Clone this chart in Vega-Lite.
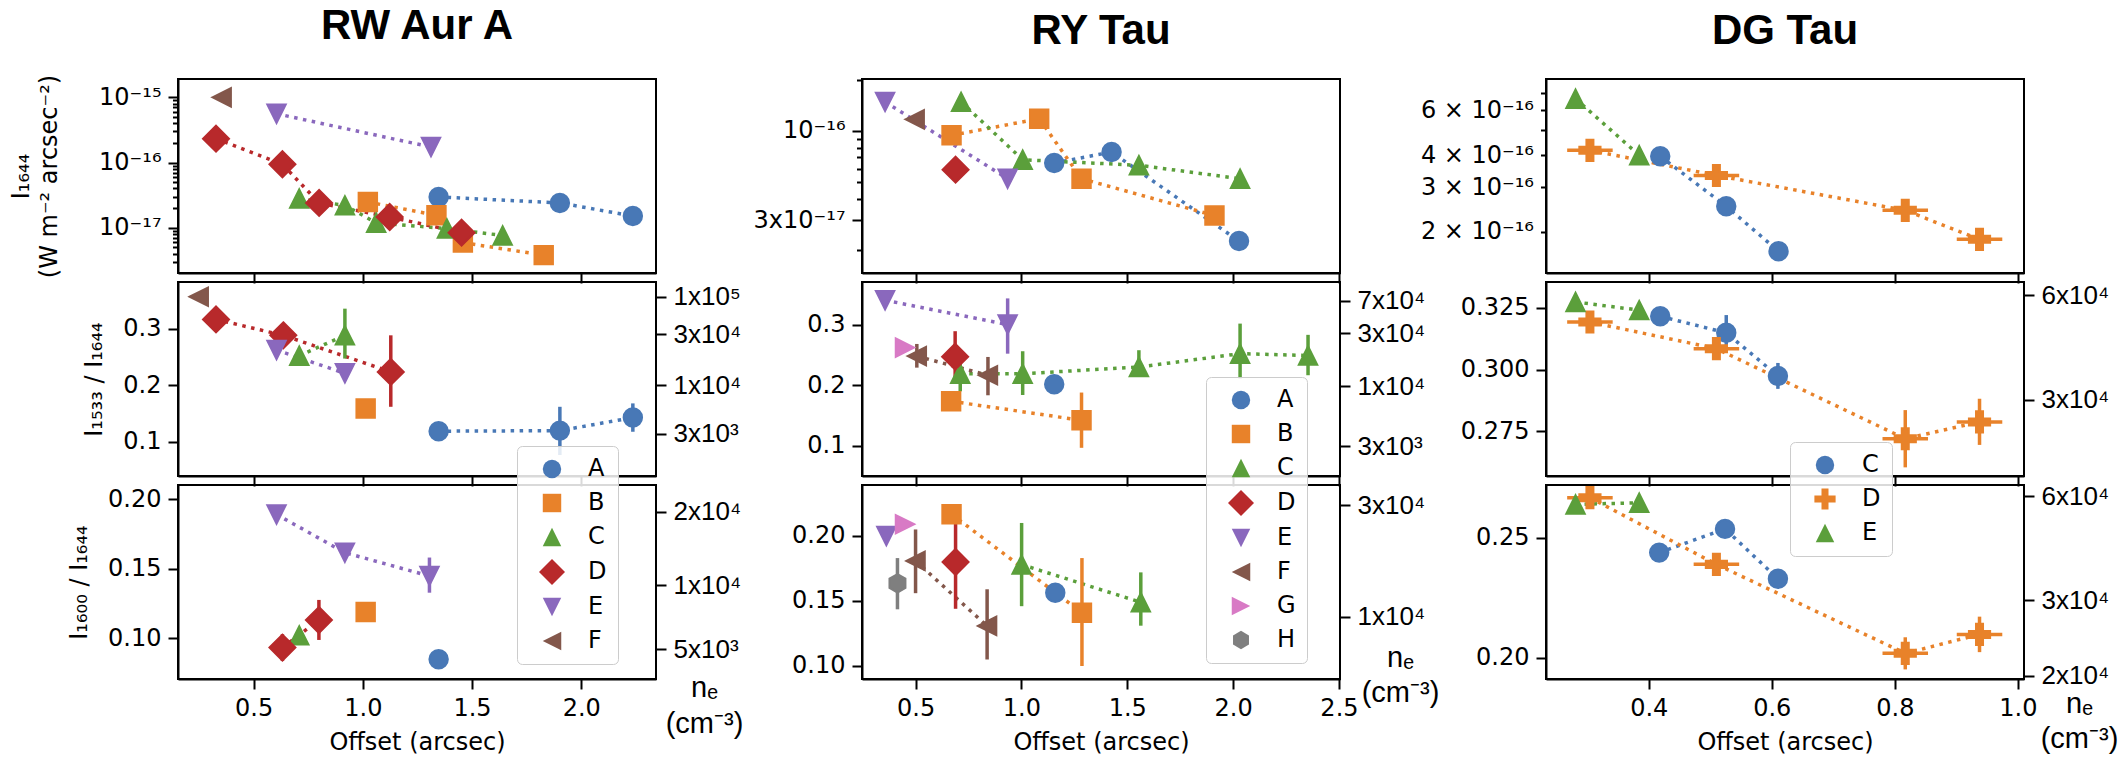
{
  "$schema": "https://vega.github.io/schema/vega-lite/v6.json",
  "background": "white",
  "padding": {"left": 8, "top": 4, "right": 5, "bottom": 5},
  "config": {
    "font": "DejaVu Sans",
    "view": {"stroke": "black", "strokeWidth": 2},
    "axis": {
      "domainColor": "black", "domainWidth": 2, "tickColor": "black", "tickWidth": 2, "tickSize": 10,
      "labelFont": "DejaVu Sans", "labelFontSize": 24, "labelColor": "black", "labelPadding": 7,
      "labelFlush": false, "labelOverlap": false, "labelBound": false, "grid": false,
      "titleFont": "DejaVu Sans", "titleFontSize": 24, "titleFontWeight": "normal", "titleColor": "black",
      "titlePadding": 16, "titleLineHeight": 28
    },
    "legend": {
      "fillColor": "rgba(255,255,255,0.85)", "strokeColor": "#cccccc", "cornerRadius": 5,
      "labelFont": "DejaVu Sans", "labelFontSize": 24, "labelColor": "black",
      "symbolSize": 340, "symbolStrokeWidth": 0, "rowPadding": 10
    },
    "title": {"font": "Liberation Sans", "fontSize": 42, "fontWeight": "bold", "color": "black", "anchor": "middle", "offset": 26}
  },
  "datasets": {
    "rw1": [
      {"s": "A", "x": 1.347, "y": 2.96e-17}, {"s": "A", "x": 1.902, "y": 2.4e-17}, {"s": "A", "x": 2.236, "y": 1.51e-17},
      {"s": "B", "x": 1.023, "y": 2.48e-17}, {"s": "B", "x": 1.337, "y": 1.55e-17}, {"s": "B", "x": 1.458, "y": 5.9e-18}, {"s": "B", "x": 1.828, "y": 3.8e-18},
      {"s": "C", "x": 0.709, "y": 2.8e-17}, {"s": "C", "x": 0.918, "y": 2.2e-17}, {"s": "C", "x": 1.061, "y": 1.19e-17}, {"s": "C", "x": 1.385, "y": 9.7e-18}, {"s": "C", "x": 1.64, "y": 7.6e-18},
      {"s": "D", "x": 0.328, "y": 2.32e-16}, {"s": "D", "x": 0.632, "y": 9.4e-17}, {"s": "D", "x": 0.8, "y": 2.4e-17}, {"s": "D", "x": 1.123, "y": 1.46e-17}, {"s": "D", "x": 1.452, "y": 8.4e-18},
      {"s": "E", "x": 0.605, "y": 5.6e-16}, {"s": "E", "x": 1.312, "y": 1.73e-16},
      {"s": "F", "x": 0.354, "y": 1.0e-15}
    ],
    "rw2": [
      {"s": "A", "x": 1.347, "y": 0.119}, {"s": "A", "x": 1.902, "y": 0.12, "lo": 0.077, "hi": 0.162}, {"s": "A", "x": 2.236, "y": 0.143, "lo": 0.118, "hi": 0.168},
      {"s": "B", "x": 1.013, "y": 0.159},
      {"s": "C", "x": 0.709, "y": 0.252}, {"s": "C", "x": 0.918, "y": 0.288, "lo": 0.247, "hi": 0.335},
      {"s": "D", "x": 0.328, "y": 0.316}, {"s": "D", "x": 0.636, "y": 0.288}, {"s": "D", "x": 1.128, "y": 0.2235, "lo": 0.162, "hi": 0.288},
      {"s": "E", "x": 0.605, "y": 0.262}, {"s": "E", "x": 0.918, "y": 0.221},
      {"s": "F", "x": 0.249, "y": 0.356}
    ],
    "rw3": [
      {"s": "A", "x": 1.347, "y": 0.0848},
      {"s": "B", "x": 1.013, "y": 0.1188},
      {"s": "C", "x": 0.709, "y": 0.102},
      {"s": "D", "x": 0.632, "y": 0.0932, "lo": 0.0836, "hi": 0.1028}, {"s": "D", "x": 0.799, "y": 0.113, "lo": 0.0987, "hi": 0.1275},
      {"s": "E", "x": 0.605, "y": 0.189}, {"s": "E", "x": 0.918, "y": 0.1615}, {"s": "E", "x": 1.305, "y": 0.1447, "lo": 0.1327, "hi": 0.158}
    ],
    "ry1": [
      {"s": "A", "x": 1.155, "y": 6.5e-17}, {"s": "A", "x": 1.426, "y": 7.53e-17}, {"s": "A", "x": 2.028, "y": 2.27e-17},
      {"s": "B", "x": 0.67, "y": 9.44e-17}, {"s": "B", "x": 1.084, "y": 1.18e-16}, {"s": "B", "x": 1.284, "y": 5.26e-17}, {"s": "B", "x": 1.912, "y": 3.2e-17},
      {"s": "C", "x": 0.715, "y": 1.48e-16}, {"s": "C", "x": 1.006, "y": 6.79e-17}, {"s": "C", "x": 1.555, "y": 6.3e-17}, {"s": "C", "x": 2.033, "y": 5.26e-17},
      {"s": "D", "x": 0.689, "y": 5.94e-17},
      {"s": "E", "x": 0.356, "y": 1.48e-16}, {"s": "E", "x": 0.935, "y": 5.26e-17},
      {"s": "F", "x": 0.496, "y": 1.17e-16}
    ],
    "ry2": [
      {"s": "A", "x": 1.155, "y": 0.2017},
      {"s": "B", "x": 0.668, "y": 0.1736}, {"s": "B", "x": 1.284, "y": 0.1423, "lo": 0.097, "hi": 0.188},
      {"s": "C", "x": 0.711, "y": 0.219, "lo": 0.19, "hi": 0.25}, {"s": "C", "x": 1.006, "y": 0.219, "lo": 0.184, "hi": 0.256}, {"s": "C", "x": 1.555, "y": 0.23, "lo": 0.2137, "hi": 0.2577}, {"s": "C", "x": 2.033, "y": 0.252, "lo": 0.211, "hi": 0.3015}, {"s": "C", "x": 2.354, "y": 0.249, "lo": 0.2165, "hi": 0.283},
      {"s": "D", "x": 0.687, "y": 0.247, "lo": 0.205, "hi": 0.289},
      {"s": "E", "x": 0.356, "y": 0.34}, {"s": "E", "x": 0.935, "y": 0.2999, "lo": 0.252, "hi": 0.343},
      {"s": "F", "x": 0.506, "y": 0.248, "lo": 0.229, "hi": 0.268}, {"s": "F", "x": 0.842, "y": 0.2165, "lo": 0.1835, "hi": 0.2466},
      {"s": "G", "x": 0.45, "y": 0.262}
    ],
    "ry3": [
      {"s": "A", "x": 1.16, "y": 0.1564},
      {"s": "B", "x": 0.67, "y": 0.2167}, {"s": "B", "x": 1.286, "y": 0.141, "lo": 0.1, "hi": 0.183},
      {"s": "C", "x": 1.001, "y": 0.178, "lo": 0.146, "hi": 0.21}, {"s": "C", "x": 1.564, "y": 0.149, "lo": 0.131, "hi": 0.172},
      {"s": "D", "x": 0.689, "y": 0.18, "lo": 0.144, "hi": 0.216},
      {"s": "E", "x": 0.362, "y": 0.2},
      {"s": "F", "x": 0.5, "y": 0.1808, "lo": 0.156, "hi": 0.205}, {"s": "F", "x": 0.838, "y": 0.1308, "lo": 0.105, "hi": 0.159},
      {"s": "G", "x": 0.45, "y": 0.209},
      {"s": "H", "x": 0.4145, "y": 0.1636, "lo": 0.1436, "hi": 0.183}
    ],
    "dg1": [
      {"s": "C", "x": 0.4187, "y": 3.96e-16}, {"s": "C", "x": 0.526, "y": 2.52e-16}, {"s": "C", "x": 0.611, "y": 1.68e-16},
      {"s": "D", "x": 0.3044, "y": 4.18e-16, "xlo": 0.2674, "xhi": 0.3414}, {"s": "D", "x": 0.51, "y": 3.33e-16, "xlo": 0.473, "xhi": 0.547}, {"s": "D", "x": 0.817, "y": 2.43e-16, "xlo": 0.78, "xhi": 0.854}, {"s": "D", "x": 0.9377, "y": 1.87e-16, "xlo": 0.9007, "xhi": 0.9747},
      {"s": "E", "x": 0.281, "y": 6.66e-16}, {"s": "E", "x": 0.3845, "y": 4.0e-16}
    ],
    "dg2": [
      {"s": "C", "x": 0.4187, "y": 0.3216}, {"s": "C", "x": 0.526, "y": 0.3149, "lo": 0.3077, "hi": 0.3221}, {"s": "C", "x": 0.61, "y": 0.2974, "lo": 0.2922, "hi": 0.3027},
      {"s": "D", "x": 0.3044, "y": 0.3193, "xlo": 0.2674, "xhi": 0.3414}, {"s": "D", "x": 0.51, "y": 0.3085, "xlo": 0.473, "xhi": 0.547}, {"s": "D", "x": 0.817, "y": 0.272, "lo": 0.2604, "hi": 0.2836, "xlo": 0.78, "xhi": 0.854}, {"s": "D", "x": 0.9377, "y": 0.2788, "lo": 0.2695, "hi": 0.2882, "xlo": 0.9007, "xhi": 0.9747},
      {"s": "E", "x": 0.281, "y": 0.3274}, {"s": "E", "x": 0.3845, "y": 0.3241}
    ],
    "dg3": [
      {"s": "C", "x": 0.417, "y": 0.2438}, {"s": "C", "x": 0.524, "y": 0.2537}, {"s": "C", "x": 0.61, "y": 0.2329},
      {"s": "D", "x": 0.3044, "y": 0.2667, "xlo": 0.2674, "xhi": 0.3414}, {"s": "D", "x": 0.51, "y": 0.2389, "xlo": 0.473, "xhi": 0.547}, {"s": "D", "x": 0.817, "y": 0.2018, "lo": 0.1951, "hi": 0.2085, "xlo": 0.78, "xhi": 0.854}, {"s": "D", "x": 0.9377, "y": 0.2097, "lo": 0.2023, "hi": 0.2171, "xlo": 0.9007, "xhi": 0.9747},
      {"s": "E", "x": 0.281, "y": 0.2639}, {"s": "E", "x": 0.3845, "y": 0.2646}
    ]
  },
  "columns": 3,
  "spacing": {"row": 9, "column": 206},
  "bounds": "flush",
  "resolve": {"scale": {"fill": "independent", "stroke": "independent", "shape": "independent"}},
  "concat": [
    {
      "title": {"text": "RW Aur A"},
      "width": 478, "height": 194,
      "data": {"name": "rw1"},
      "resolve": {"scale": {"y": "independent"}},
      "layer": [
        {
          "encoding": {
            "x": {"field": "x", "type": "quantitative", "scale": {"domain": [0.154, 2.342], "nice": false, "zero": false}, "axis": {"values": [0.5, 1, 1.5, 2], "labels": false, "title": null}},
            "y": {"field": "y", "type": "quantitative", "scale": {"type": "log", "domain": [2.02e-18, 1.91e-15], "nice": false}, "axis": {"values": [1e-17, 1e-16, 1e-15], "labelExpr": "datum.value < 5e-17 ? '10⁻¹⁷' : datum.value < 5e-16 ? '10⁻¹⁶' : '10⁻¹⁵'", "title": ["I₁₆₄₄", "(W m⁻² arcsec⁻²)"], "titlePadding": 37}},
            "stroke": {"field": "s", "type": "nominal", "scale": {"domain": ["A", "B", "C", "D", "E", "F"], "range": ["#4878b6", "#e8822a", "#5b9f3b", "#b8292b", "#8a68bd", "#83574b"]}, "legend": null}
          },
          "layer": [
            {"mark": {"type": "line", "strokeWidth": 3.5, "strokeDash": [3.5, 5.5]}},
            {"mark": {"type": "point", "filled": true, "opacity": 1, "size": 340},
             "encoding": {
               "fill": {"field": "s", "type": "nominal", "scale": {"domain": ["A", "B", "C", "D", "E", "F"], "range": ["#4878b6", "#e8822a", "#5b9f3b", "#b8292b", "#8a68bd", "#83574b"]}, "legend": null},
               "shape": {"field": "s", "type": "nominal", "scale": {"domain": ["A", "B", "C", "D", "E", "F"], "range": ["circle", "square", "M0,-1L1,1L-1,1Z", "M0,-1.41L1.41,0L0,1.41L-1.41,0Z", "M0,1L1,-1L-1,-1Z", "M-1,0L1,-1L1,1Z"]}, "legend": null}}}
          ]
        },
        {
          "mark": {"type": "point", "opacity": 0},
          "encoding": {"y": {"field": "y", "type": "quantitative", "scale": {"type": "log", "domain": [2.02e-18, 1.91e-15], "nice": false}, "axis": {"orient": "left", "values": [3e-18, 4e-18, 5e-18, 6e-18, 7e-18, 8e-18, 9e-18, 2e-17, 3e-17, 4e-17, 5e-17, 6e-17, 7e-17, 8e-17, 9e-17, 2e-16, 3e-16, 4e-16, 5e-16, 6e-16, 7e-16, 8e-16, 9e-16], "labels": false, "domain": false, "tickSize": 5.5, "title": null}}}
        }
      ]
    },
    {
      "title": {"text": "RY Tau"},
      "width": 478, "height": 194,
      "data": {"name": "ry1"},
      "resolve": {"scale": {"y": "independent"}},
      "layer": [
        {
          "encoding": {
            "x": {"field": "x", "type": "quantitative", "scale": {"domain": [0.247, 2.505], "nice": false, "zero": false}, "axis": {"values": [0.5, 1, 1.5, 2, 2.5], "labels": false, "title": null}},
            "y": {"field": "y", "type": "quantitative", "scale": {"type": "log", "domain": [1.476e-17, 2.015e-16], "nice": false}, "axis": {"values": [3e-17, 1e-16], "labelExpr": "datum.value < 5e-17 ? '3x10⁻¹⁷' : '10⁻¹⁶'", "title": null}},
            "stroke": {"field": "s", "type": "nominal", "scale": {"domain": ["A", "B", "C", "D", "E", "F", "G", "H"], "range": ["#4878b6", "#e8822a", "#5b9f3b", "#b8292b", "#8a68bd", "#83574b", "#d87ac5", "#7f7f7f"]}, "legend": null}
          },
          "layer": [
            {"mark": {"type": "line", "strokeWidth": 3.5, "strokeDash": [3.5, 5.5]}},
            {"mark": {"type": "point", "filled": true, "opacity": 1, "size": 340},
             "encoding": {
               "fill": {"field": "s", "type": "nominal", "scale": {"domain": ["A", "B", "C", "D", "E", "F", "G", "H"], "range": ["#4878b6", "#e8822a", "#5b9f3b", "#b8292b", "#8a68bd", "#83574b", "#d87ac5", "#7f7f7f"]}, "legend": null},
               "shape": {"field": "s", "type": "nominal", "scale": {"domain": ["A", "B", "C", "D", "E", "F", "G", "H"], "range": ["circle", "square", "M0,-1L1,1L-1,1Z", "M0,-1.41L1.41,0L0,1.41L-1.41,0Z", "M0,1L1,-1L-1,-1Z", "M-1,0L1,-1L1,1Z", "M1,0L-1,-1L-1,1Z", "M0,-1L0.866,-0.5L0.866,0.5L0,1L-0.866,0.5L-0.866,-0.5Z"]}, "legend": null}}}
          ]
        },
        {
          "mark": {"type": "point", "opacity": 0},
          "encoding": {"y": {"field": "y", "type": "quantitative", "scale": {"type": "log", "domain": [1.476e-17, 2.015e-16], "nice": false}, "axis": {"orient": "left", "values": [2e-17, 4e-17, 5e-17, 6e-17, 7e-17, 8e-17, 9e-17, 2e-16], "labels": false, "domain": false, "tickSize": 5.5, "title": null}}}
        }
      ]
    },
    {
      "title": {"text": "DG Tau"},
      "width": 478, "height": 194,
      "data": {"name": "dg1"},
      "resolve": {"scale": {"y": "independent"}},
      "layer": [
        {
          "encoding": {
            "x": {"field": "x", "type": "quantitative", "scale": {"domain": [0.233, 1.01], "nice": false, "zero": false}, "axis": {"values": [0.4, 0.6, 0.8, 1.0], "labels": false, "title": null}},
            "y": {"field": "y", "type": "quantitative", "scale": {"type": "log", "domain": [1.38e-16, 7.96e-16], "nice": false}, "axis": {"values": [2e-16, 3e-16, 4e-16, 6e-16], "tickSize": 5.5, "labelExpr": "datum.value < 2.5e-16 ? '2 × 10⁻¹⁶' : datum.value < 3.5e-16 ? '3 × 10⁻¹⁶' : datum.value < 5e-16 ? '4 × 10⁻¹⁶' : '6 × 10⁻¹⁶'", "title": null}},
            "stroke": {"field": "s", "type": "nominal", "scale": {"domain": ["C", "D", "E"], "range": ["#4878b6", "#e8822a", "#5b9f3b"]}, "legend": null}
          },
          "layer": [
            {"mark": {"type": "line", "strokeWidth": 3.5, "strokeDash": [3.5, 5.5]}},
            {"transform": [{"filter": "isValid(datum.xlo)"}], "mark": {"type": "rule", "strokeWidth": 3.5},
             "encoding": {"x": {"field": "xlo", "type": "quantitative", "scale": {"domain": [0.233, 1.01], "nice": false, "zero": false}, "axis": {"values": [0.4, 0.6, 0.8, 1.0], "labels": false, "title": null}}, "x2": {"field": "xhi"}}},
            {"mark": {"type": "point", "filled": true, "opacity": 1, "size": 340},
             "encoding": {
               "fill": {"field": "s", "type": "nominal", "scale": {"domain": ["C", "D", "E"], "range": ["#4878b6", "#e8822a", "#5b9f3b"]}, "legend": null},
               "shape": {"field": "s", "type": "nominal", "scale": {"domain": ["C", "D", "E"], "range": ["circle", "M-0.38,-1.15L0.38,-1.15L0.38,-0.38L1.15,-0.38L1.15,0.38L0.38,0.38L0.38,1.15L-0.38,1.15L-0.38,0.38L-1.15,0.38L-1.15,-0.38L-0.38,-0.38Z", "M0,-1L1,1L-1,1Z"]}, "legend": null}}}
          ]
        },
        {
          "mark": {"type": "point", "opacity": 0},
          "encoding": {"y": {"field": "y", "type": "quantitative", "scale": {"type": "log", "domain": [1.38e-16, 7.96e-16], "nice": false}, "axis": {"orient": "left", "values": [5e-16, 7e-16], "labels": false, "domain": false, "tickSize": 5.5, "title": null}}}
        }
      ]
    },
    {
      "width": 478, "height": 194,
      "data": {"name": "rw2"},
      "resolve": {"scale": {"y": "independent"}},
      "layer": [
        {
          "encoding": {
            "x": {"field": "x", "type": "quantitative", "scale": {"domain": [0.154, 2.342], "nice": false, "zero": false}, "axis": {"values": [0.5, 1, 1.5, 2], "labels": false, "title": null}},
            "y": {"field": "y", "type": "quantitative", "scale": {"domain": [0.04, 0.382], "nice": false, "zero": false}, "axis": {"values": [0.1, 0.2, 0.3], "format": ".1f", "title": "I₁₅₃₃ / I₁₆₄₄"}},
            "stroke": {"field": "s", "type": "nominal", "scale": {"domain": ["A", "B", "C", "D", "E", "F"], "range": ["#4878b6", "#e8822a", "#5b9f3b", "#b8292b", "#8a68bd", "#83574b"]}, "legend": null}
          },
          "layer": [
            {"mark": {"type": "line", "strokeWidth": 3.5, "strokeDash": [3.5, 5.5]}},
            {"transform": [{"filter": "isValid(datum.lo)"}], "mark": {"type": "rule", "strokeWidth": 3.5},
             "encoding": {"y": {"field": "lo", "type": "quantitative", "scale": {"domain": [0.04, 0.382], "nice": false, "zero": false}, "axis": {"values": [0.1, 0.2, 0.3], "format": ".1f", "title": "I₁₅₃₃ / I₁₆₄₄"}}, "y2": {"field": "hi"}}},
            {"mark": {"type": "point", "filled": true, "opacity": 1, "size": 340},
             "encoding": {
               "fill": {"field": "s", "type": "nominal", "scale": {"domain": ["A", "B", "C", "D", "E", "F"], "range": ["#4878b6", "#e8822a", "#5b9f3b", "#b8292b", "#8a68bd", "#83574b"]}, "legend": null},
               "shape": {"field": "s", "type": "nominal", "scale": {"domain": ["A", "B", "C", "D", "E", "F"], "range": ["circle", "square", "M0,-1L1,1L-1,1Z", "M0,-1.41L1.41,0L0,1.41L-1.41,0Z", "M0,1L1,-1L-1,-1Z", "M-1,0L1,-1L1,1Z"]}, "legend": null}}}
          ]
        },
        {
          "mark": {"type": "point", "opacity": 0},
          "encoding": {"y": {"field": "y", "type": "quantitative", "scale": {"domain": [0.04, 0.382], "nice": false, "zero": false}, "axis": {"orient": "right", "values": [0.356, 0.29, 0.2, 0.1147], "labelExpr": "datum.value > 0.32 ? '1x10⁵' : datum.value > 0.25 ? '3x10⁴' : datum.value > 0.15 ? '1x10⁴' : '3x10³'", "labelFont": "Liberation Sans", "labelFontSize": 26, "domain": false, "title": null}}}
        }
      ]
    },
    {
      "width": 478, "height": 194,
      "data": {"name": "ry2"},
      "resolve": {"scale": {"y": "independent"}},
      "layer": [
        {
          "encoding": {
            "x": {"field": "x", "type": "quantitative", "scale": {"domain": [0.247, 2.505], "nice": false, "zero": false}, "axis": {"values": [0.5, 1, 1.5, 2, 2.5], "labels": false, "title": null}},
            "y": {"field": "y", "type": "quantitative", "scale": {"domain": [0.0506, 0.37], "nice": false, "zero": false}, "axis": {"values": [0.1, 0.2, 0.3], "format": ".1f", "title": null}},
            "stroke": {"field": "s", "type": "nominal", "scale": {"domain": ["A", "B", "C", "D", "E", "F", "G", "H"], "range": ["#4878b6", "#e8822a", "#5b9f3b", "#b8292b", "#8a68bd", "#83574b", "#d87ac5", "#7f7f7f"]}, "legend": null}
          },
          "layer": [
            {"mark": {"type": "line", "strokeWidth": 3.5, "strokeDash": [3.5, 5.5]}},
            {"transform": [{"filter": "isValid(datum.lo)"}], "mark": {"type": "rule", "strokeWidth": 3.5},
             "encoding": {"y": {"field": "lo", "type": "quantitative", "scale": {"domain": [0.0506, 0.37], "nice": false, "zero": false}, "axis": {"values": [0.1, 0.2, 0.3], "format": ".1f", "title": null}}, "y2": {"field": "hi"}}},
            {"mark": {"type": "point", "filled": true, "opacity": 1, "size": 340},
             "encoding": {
               "fill": {"field": "s", "type": "nominal", "scale": {"domain": ["A", "B", "C", "D", "E", "F", "G", "H"], "range": ["#4878b6", "#e8822a", "#5b9f3b", "#b8292b", "#8a68bd", "#83574b", "#d87ac5", "#7f7f7f"]}, "legend": null},
               "shape": {"field": "s", "type": "nominal", "scale": {"domain": ["A", "B", "C", "D", "E", "F", "G", "H"], "range": ["circle", "square", "M0,-1L1,1L-1,1Z", "M0,-1.41L1.41,0L0,1.41L-1.41,0Z", "M0,1L1,-1L-1,-1Z", "M-1,0L1,-1L1,1Z", "M1,0L-1,-1L-1,1Z", "M0,-1L0.866,-0.5L0.866,0.5L0,1L-0.866,0.5L-0.866,-0.5Z"]}, "legend": null}}}
          ]
        },
        {
          "mark": {"type": "point", "opacity": 0},
          "encoding": {"y": {"field": "y", "type": "quantitative", "scale": {"domain": [0.0506, 0.37], "nice": false, "zero": false}, "axis": {"orient": "right", "values": [0.339, 0.286, 0.198, 0.0995], "labelExpr": "datum.value > 0.32 ? '7x10⁴' : datum.value > 0.25 ? '3x10⁴' : datum.value > 0.15 ? '1x10⁴' : '3x10³'", "labelFont": "Liberation Sans", "labelFontSize": 26, "domain": false, "title": null}}}
        }
      ]
    },
    {
      "width": 478, "height": 194,
      "data": {"name": "dg2"},
      "resolve": {"scale": {"y": "independent"}},
      "layer": [
        {
          "encoding": {
            "x": {"field": "x", "type": "quantitative", "scale": {"domain": [0.233, 1.01], "nice": false, "zero": false}, "axis": {"values": [0.4, 0.6, 0.8, 1.0], "labels": false, "title": null}},
            "y": {"field": "y", "type": "quantitative", "scale": {"domain": [0.2569, 0.3355], "nice": false, "zero": false}, "axis": {"values": [0.275, 0.3, 0.325], "format": ".3f", "title": null}},
            "stroke": {"field": "s", "type": "nominal", "scale": {"domain": ["C", "D", "E"], "range": ["#4878b6", "#e8822a", "#5b9f3b"]}, "legend": null}
          },
          "layer": [
            {"mark": {"type": "line", "strokeWidth": 3.5, "strokeDash": [3.5, 5.5]}},
            {"transform": [{"filter": "isValid(datum.lo)"}], "mark": {"type": "rule", "strokeWidth": 3.5},
             "encoding": {"y": {"field": "lo", "type": "quantitative", "scale": {"domain": [0.2569, 0.3355], "nice": false, "zero": false}, "axis": {"values": [0.275, 0.3, 0.325], "format": ".3f", "title": null}}, "y2": {"field": "hi"}}},
            {"transform": [{"filter": "isValid(datum.xlo)"}], "mark": {"type": "rule", "strokeWidth": 3.5},
             "encoding": {"x": {"field": "xlo", "type": "quantitative", "scale": {"domain": [0.233, 1.01], "nice": false, "zero": false}, "axis": {"values": [0.4, 0.6, 0.8, 1.0], "labels": false, "title": null}}, "x2": {"field": "xhi"}}},
            {"mark": {"type": "point", "filled": true, "opacity": 1, "size": 340},
             "encoding": {
               "fill": {"field": "s", "type": "nominal", "scale": {"domain": ["C", "D", "E"], "range": ["#4878b6", "#e8822a", "#5b9f3b"]}, "legend": null},
               "shape": {"field": "s", "type": "nominal", "scale": {"domain": ["C", "D", "E"], "range": ["circle", "M-0.38,-1.15L0.38,-1.15L0.38,-0.38L1.15,-0.38L1.15,0.38L0.38,0.38L0.38,1.15L-0.38,1.15L-0.38,0.38L-1.15,0.38L-1.15,-0.38L-0.38,-0.38Z", "M0,-1L1,1L-1,1Z"]}, "legend": null}}}
          ]
        },
        {
          "mark": {"type": "point", "opacity": 0},
          "encoding": {"y": {"field": "y", "type": "quantitative", "scale": {"domain": [0.2569, 0.3355], "nice": false, "zero": false}, "axis": {"orient": "right", "values": [0.3301, 0.2878], "labelExpr": "datum.value > 0.31 ? '6x10⁴' : '3x10⁴'", "labelFont": "Liberation Sans", "labelFontSize": 26, "domain": false, "title": null}}}
        }
      ]
    },
    {
      "width": 478, "height": 194,
      "data": {"name": "rw3"},
      "resolve": {"scale": {"y": "independent"}},
      "layer": [
        {
          "encoding": {
            "x": {"field": "x", "type": "quantitative", "scale": {"domain": [0.154, 2.342], "nice": false, "zero": false}, "axis": {"values": [0.5, 1, 1.5, 2], "format": ".1f", "title": "Offset (arcsec)", "titlePadding": 10}},
            "y": {"field": "y", "type": "quantitative", "scale": {"domain": [0.0706, 0.2102], "nice": false, "zero": false}, "axis": {"values": [0.1, 0.15, 0.2], "format": ".2f", "title": "I₁₆₀₀ / I₁₆₄₄"}},
            "stroke": {"field": "s", "type": "nominal", "scale": {"domain": ["A", "B", "C", "D", "E", "F"], "range": ["#4878b6", "#e8822a", "#5b9f3b", "#b8292b", "#8a68bd", "#83574b"]},
                       "legend": {"orient": "none", "legendX": 339, "legendY": -39, "title": null, "padding": 11, "symbolOffset": 12, "labelOffset": 24}}
          },
          "layer": [
            {"mark": {"type": "line", "strokeWidth": 3.5, "strokeDash": [3.5, 5.5]}},
            {"transform": [{"filter": "isValid(datum.lo)"}], "mark": {"type": "rule", "strokeWidth": 3.5},
             "encoding": {"y": {"field": "lo", "type": "quantitative", "scale": {"domain": [0.0706, 0.2102], "nice": false, "zero": false}, "axis": {"values": [0.1, 0.15, 0.2], "format": ".2f", "title": "I₁₆₀₀ / I₁₆₄₄"}}, "y2": {"field": "hi"}}},
            {"mark": {"type": "point", "filled": true, "opacity": 1, "size": 340},
             "encoding": {
               "fill": {"field": "s", "type": "nominal", "scale": {"domain": ["A", "B", "C", "D", "E", "F"], "range": ["#4878b6", "#e8822a", "#5b9f3b", "#b8292b", "#8a68bd", "#83574b"]},
                        "legend": {"orient": "none", "legendX": 339, "legendY": -39, "title": null, "padding": 11, "symbolOffset": 12, "labelOffset": 24}},
               "shape": {"field": "s", "type": "nominal", "scale": {"domain": ["A", "B", "C", "D", "E", "F"], "range": ["circle", "square", "M0,-1L1,1L-1,1Z", "M0,-1.41L1.41,0L0,1.41L-1.41,0Z", "M0,1L1,-1L-1,-1Z", "M-1,0L1,-1L1,1Z"]},
                         "legend": {"orient": "none", "legendX": 339, "legendY": -39, "title": null, "padding": 11, "symbolOffset": 12, "labelOffset": 24}}}}
          ]
        },
        {
          "mark": {"type": "point", "opacity": 0},
          "encoding": {"y": {"field": "y", "type": "quantitative", "scale": {"domain": [0.0706, 0.2102], "nice": false, "zero": false}, "axis": {"orient": "right", "values": [0.191, 0.138, 0.092], "labelExpr": "datum.value > 0.17 ? '2x10⁴' : datum.value > 0.11 ? '1x10⁴' : '5x10³'", "labelFont": "Liberation Sans", "labelFontSize": 26, "domain": false,
            "title": ["nₑ", "(cm⁻³)"], "titleAngle": 0, "titleAlign": "center", "titleBaseline": "top", "titleX": 48, "titleY": 188, "titleFont": "Liberation Sans", "titleFontSize": 29, "titleLineHeight": 36}}}
        }
      ]
    },
    {
      "width": 478, "height": 194,
      "data": {"name": "ry3"},
      "resolve": {"scale": {"y": "independent"}},
      "layer": [
        {
          "encoding": {
            "x": {"field": "x", "type": "quantitative", "scale": {"domain": [0.247, 2.505], "nice": false, "zero": false}, "axis": {"values": [0.5, 1, 1.5, 2, 2.5], "format": ".1f", "title": "Offset (arcsec)", "titlePadding": 10}},
            "y": {"field": "y", "type": "quantitative", "scale": {"domain": [0.09, 0.2392], "nice": false, "zero": false}, "axis": {"values": [0.1, 0.15, 0.2], "format": ".2f", "title": null}},
            "stroke": {"field": "s", "type": "nominal", "scale": {"domain": ["A", "B", "C", "D", "E", "F", "G", "H"], "range": ["#4878b6", "#e8822a", "#5b9f3b", "#b8292b", "#8a68bd", "#83574b", "#d87ac5", "#7f7f7f"]},
                       "legend": {"orient": "none", "legendX": 344, "legendY": -108, "title": null, "padding": 11, "symbolOffset": 12, "labelOffset": 24}}
          },
          "layer": [
            {"mark": {"type": "line", "strokeWidth": 3.5, "strokeDash": [3.5, 5.5]}},
            {"transform": [{"filter": "isValid(datum.lo)"}], "mark": {"type": "rule", "strokeWidth": 3.5},
             "encoding": {"y": {"field": "lo", "type": "quantitative", "scale": {"domain": [0.09, 0.2392], "nice": false, "zero": false}, "axis": {"values": [0.1, 0.15, 0.2], "format": ".2f", "title": null}}, "y2": {"field": "hi"}}},
            {"mark": {"type": "point", "filled": true, "opacity": 1, "size": 340},
             "encoding": {
               "fill": {"field": "s", "type": "nominal", "scale": {"domain": ["A", "B", "C", "D", "E", "F", "G", "H"], "range": ["#4878b6", "#e8822a", "#5b9f3b", "#b8292b", "#8a68bd", "#83574b", "#d87ac5", "#7f7f7f"]},
                        "legend": {"orient": "none", "legendX": 344, "legendY": -108, "title": null, "padding": 11, "symbolOffset": 12, "labelOffset": 24}},
               "shape": {"field": "s", "type": "nominal", "scale": {"domain": ["A", "B", "C", "D", "E", "F", "G", "H"], "range": ["circle", "square", "M0,-1L1,1L-1,1Z", "M0,-1.41L1.41,0L0,1.41L-1.41,0Z", "M0,1L1,-1L-1,-1Z", "M-1,0L1,-1L1,1Z", "M1,0L-1,-1L-1,1Z", "M0,-1L0.866,-0.5L0.866,0.5L0,1L-0.866,0.5L-0.866,-0.5Z"]},
                         "legend": {"orient": "none", "legendX": 344, "legendY": -108, "title": null, "padding": 11, "symbolOffset": 12, "labelOffset": 24}}}}
          ]
        },
        {
          "mark": {"type": "point", "opacity": 0},
          "encoding": {"y": {"field": "y", "type": "quantitative", "scale": {"domain": [0.09, 0.2392], "nice": false, "zero": false}, "axis": {"orient": "right", "values": [0.2236, 0.1377], "labelExpr": "datum.value > 0.18 ? '3x10⁴' : '1x10⁴'", "labelFont": "Liberation Sans", "labelFontSize": 26, "domain": false,
            "title": ["nₑ", "(cm⁻³)"], "titleAngle": 0, "titleAlign": "center", "titleBaseline": "top", "titleX": 60, "titleY": 158, "titleFont": "Liberation Sans", "titleFontSize": 29, "titleLineHeight": 35}}}
        }
      ]
    },
    {
      "width": 478, "height": 194,
      "data": {"name": "dg3"},
      "resolve": {"scale": {"y": "independent"}},
      "layer": [
        {
          "encoding": {
            "x": {"field": "x", "type": "quantitative", "scale": {"domain": [0.233, 1.01], "nice": false, "zero": false}, "axis": {"values": [0.4, 0.6, 0.8, 1.0], "format": ".1f", "title": "Offset (arcsec)", "titlePadding": 10}},
            "y": {"field": "y", "type": "quantitative", "scale": {"domain": [0.1911, 0.272], "nice": false, "zero": false}, "axis": {"values": [0.2, 0.25], "format": ".2f", "title": null}},
            "stroke": {"field": "s", "type": "nominal", "scale": {"domain": ["C", "D", "E"], "range": ["#4878b6", "#e8822a", "#5b9f3b"]},
                       "legend": {"orient": "none", "legendX": 244, "legendY": -43, "title": null, "padding": 11, "symbolOffset": 12, "labelOffset": 25}}
          },
          "layer": [
            {"mark": {"type": "line", "strokeWidth": 3.5, "strokeDash": [3.5, 5.5]}},
            {"transform": [{"filter": "isValid(datum.lo)"}], "mark": {"type": "rule", "strokeWidth": 3.5},
             "encoding": {"y": {"field": "lo", "type": "quantitative", "scale": {"domain": [0.1911, 0.272], "nice": false, "zero": false}, "axis": {"values": [0.2, 0.25], "format": ".2f", "title": null}}, "y2": {"field": "hi"}}},
            {"transform": [{"filter": "isValid(datum.xlo)"}], "mark": {"type": "rule", "strokeWidth": 3.5},
             "encoding": {"x": {"field": "xlo", "type": "quantitative", "scale": {"domain": [0.233, 1.01], "nice": false, "zero": false}, "axis": {"values": [0.4, 0.6, 0.8, 1.0], "format": ".1f", "title": "Offset (arcsec)", "titlePadding": 10}}, "x2": {"field": "xhi"}}},
            {"mark": {"type": "point", "filled": true, "opacity": 1, "size": 340},
             "encoding": {
               "fill": {"field": "s", "type": "nominal", "scale": {"domain": ["C", "D", "E"], "range": ["#4878b6", "#e8822a", "#5b9f3b"]},
                        "legend": {"orient": "none", "legendX": 244, "legendY": -43, "title": null, "padding": 11, "symbolOffset": 12, "labelOffset": 25}},
               "shape": {"field": "s", "type": "nominal", "scale": {"domain": ["C", "D", "E"], "range": ["circle", "M-0.38,-1.15L0.38,-1.15L0.38,-0.38L1.15,-0.38L1.15,0.38L0.38,0.38L0.38,1.15L-0.38,1.15L-0.38,0.38L-1.15,0.38L-1.15,-0.38L-0.38,-0.38Z", "M0,-1L1,1L-1,1Z"]},
                         "legend": {"orient": "none", "legendX": 244, "legendY": -43, "title": null, "padding": 11, "symbolOffset": 12, "labelOffset": 25}}}}
          ]
        },
        {
          "mark": {"type": "point", "opacity": 0},
          "encoding": {"y": {"field": "y", "type": "quantitative", "scale": {"domain": [0.1911, 0.272], "nice": false, "zero": false}, "axis": {"orient": "right", "values": [0.2674, 0.2239, 0.1924], "labelExpr": "datum.value > 0.25 ? '6x10⁴' : datum.value > 0.21 ? '3x10⁴' : '2x10⁴'", "labelFont": "Liberation Sans", "labelFontSize": 26, "domain": false,
            "title": ["nₑ", "(cm⁻³)"], "titleAngle": 0, "titleAlign": "center", "titleBaseline": "top", "titleX": 55, "titleY": 204, "titleFont": "Liberation Sans", "titleFontSize": 29, "titleLineHeight": 35}}}
        }
      ]
    }
  ]
}
